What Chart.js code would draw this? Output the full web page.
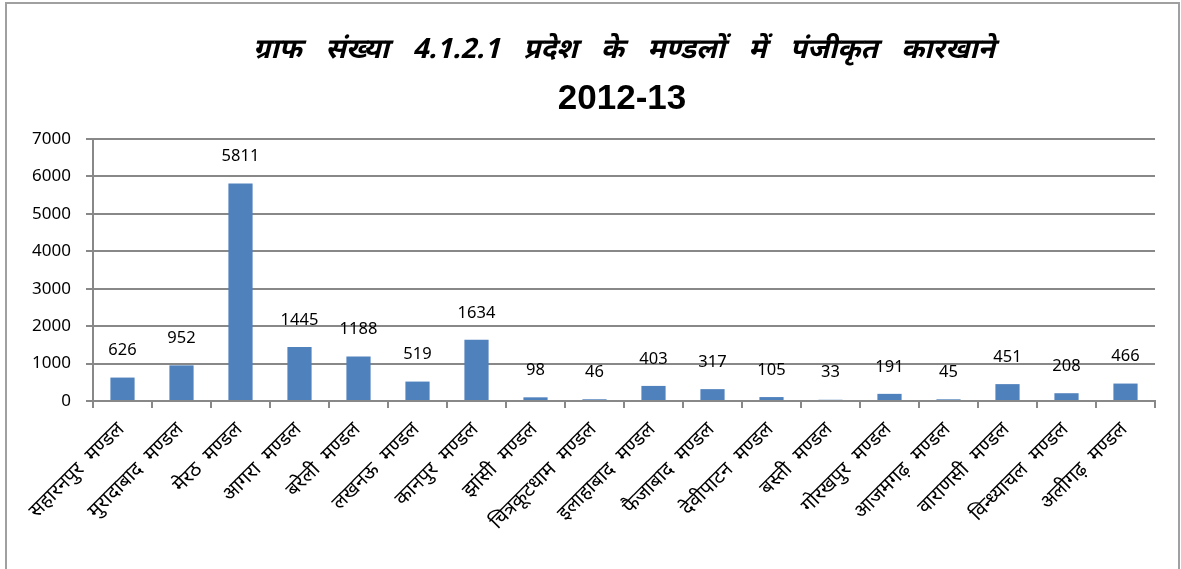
<!DOCTYPE html>
<html>
<head>
<meta charset="utf-8">
<script src="https://cdn.jsdelivr.net/npm/chart.js@4/dist/chart.umd.min.js"></script>
<style>
  html, body { margin: 0; padding: 0; background: #ffffff; }
  #wrap { position: relative; width: 1181px; height: 569px; overflow: hidden; }
  #frame { position: absolute; left: 5px; top: 2px; width: 1175px; height: 600px; border: 2px solid #a0a0a0; box-sizing: border-box; }
  canvas { position: absolute; left: 0; top: 0; }
</style>
</head>
<body>
<div id="wrap">
  <div id="frame"></div>
  <canvas id="c" width="1181" height="569"></canvas>
</div>
<script>
const titleText = 'ग्राफ संख्या 4.1.2.1 प्रदेश के मण्डलों में पंजीकृत कारखाने';
const subtitleText = '2012-13';
const categories = [
  'सहारनपुर मण्डल', 'मुरादाबाद मण्डल', 'मेरठ मण्डल', 'आगरा मण्डल', 'बरेली मण्डल',
  'लखनऊ मण्डल', 'कानपुर मण्डल', 'झांसी मण्डल', 'चित्रकूटधाम मण्डल', 'इलाहाबाद मण्डल',
  'फैजाबाद मण्डल', 'देवीपाटन मण्डल', 'बस्ती मण्डल', 'गोरखपुर मण्डल', 'आजमगढ़ मण्डल',
  'वाराणसी मण्डल', 'विन्ध्याचल मण्डल', 'अलीगढ़ मण्डल'
];
const factories = [626, 952, 5811, 1445, 1188, 519, 1634, 98, 46, 403, 317, 105, 33, 191, 45, 451, 208, 466];
const yTicks = [0, 1000, 2000, 3000, 4000, 5000, 6000, 7000];

const devFont = '"Noto Sans Devanagari", "Lohit Devanagari", "Noto Sans", "DejaVu Sans", sans-serif';
const numFont = '"Noto Sans", "Open Sans", sans-serif';

const textSpacing = {
  id: 'textSpacing',
  beforeDraw(chart) { chart.ctx.wordSpacing = '6px'; },
  afterDraw(chart) { chart.ctx.wordSpacing = '0px'; }
};

const titles = {
  id: 'titles',
  afterDraw(chart) {
    const ctx = chart.ctx;
    const cx = (chart.chartArea.left + chart.chartArea.right) / 2;
    ctx.save();
    ctx.fillStyle = '#000000';
    ctx.textAlign = 'center';
    ctx.textBaseline = 'alphabetic';
    ctx.wordSpacing = '16px';
    ctx.font = 'italic bold 28px ' + devFont;
    ctx.fillText(titleText, cx, 58);
    ctx.wordSpacing = '0px';
    ctx.font = 'bold 35px "Liberation Sans", Arial, sans-serif';
    ctx.fillText(subtitleText, cx - 2, 109);
    ctx.restore();
  }
};

const valueLabels = {
  id: 'valueLabels',
  afterDatasetsDraw(chart) {
    const ctx = chart.ctx;
    const meta = chart.getDatasetMeta(0);
    ctx.save();
    ctx.font = '16.5px ' + numFont;
    ctx.fillStyle = '#000000';
    ctx.textAlign = 'center';
    ctx.textBaseline = 'middle';
    meta.data.forEach((bar, i) => {
      ctx.fillText(String(chart.data.datasets[0].data[i]), bar.x, bar.y - 27);
    });
    ctx.restore();
  }
};

new Chart(document.getElementById('c'), {
  type: 'bar',
  data: {
    labels: categories,
    datasets: [{
      data: factories,
      backgroundColor: '#4F81BD',
      borderWidth: 0,
      categoryPercentage: 1.0,
      barPercentage: 0.41
    }]
  },
  options: {
    responsive: false,
    animation: false,
    devicePixelRatio: 1,
    layout: { padding: { left: 0, right: 26, top: 139, bottom: 0 } },
    plugins: {
      legend: { display: false },
      tooltip: { enabled: false },
      title: { display: false }
    },
    scales: {
      x: {
        grid: { display: true, drawOnChartArea: false, drawTicks: true, tickLength: 7, color: '#888888', lineWidth: 2 },
        border: { display: true, color: '#888888', width: 2 },
        ticks: {
          color: '#000000',
          font: { family: devFont, size: 20 },
          minRotation: 45,
          maxRotation: 45,
          autoSkip: false,
          padding: 11
        },
        afterFit(scale) { scale.height = 168; }
      },
      y: {
        min: 0,
        max: 7000,
        afterBuildTicks(scale) { scale.ticks = yTicks.map(v => ({ value: v })); },
        grid: { color: '#888888', lineWidth: 2, tickLength: 7 },
        border: { display: true, color: '#888888', width: 2 },
        ticks: {
          color: '#000000',
          font: { family: numFont, size: 17 },
          padding: 15,
          callback: (v) => String(v)
        },
        afterFit(scale) { scale.width = 93; }
      }
    }
  },
  plugins: [textSpacing, valueLabels, titles]
});
</script>
</body>
</html>
